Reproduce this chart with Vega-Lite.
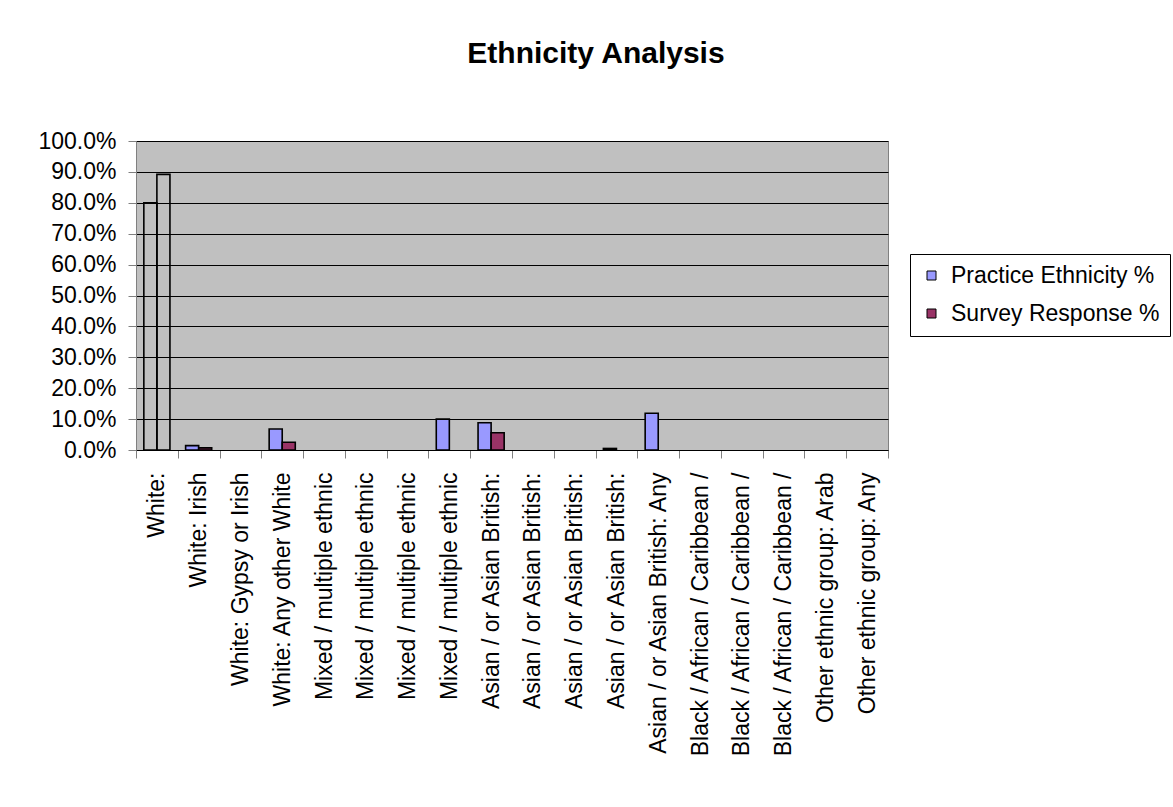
{
  "$schema": "https://vega.github.io/schema/vega-lite/v6.json",
  "autosize": "none",
  "width": 752,
  "height": 309,
  "padding": {"left": 136, "top": 141, "right": 285, "bottom": 357},
  "background": "#FFFFFF",
  "title": {
    "text": "Ethnicity Analysis",
    "font": "Liberation Sans",
    "fontSize": 30,
    "fontWeight": "bold",
    "color": "#000000",
    "anchor": "middle",
    "frame": "group",
    "dx": 84,
    "offset": 61
  },
  "datasets": {
    "ethnicity": [
      {"key": "White:#1", "series": "Practice Ethnicity %", "value": 0.800},
      {"key": "White:#1", "series": "Survey Response %", "value": 0.892},
      {"key": "White: Irish#2", "series": "Practice Ethnicity %", "value": 0.014},
      {"key": "White: Irish#2", "series": "Survey Response %", "value": 0.007},
      {"key": "White: Gypsy or Irish#3", "series": "Practice Ethnicity %", "value": 0},
      {"key": "White: Gypsy or Irish#3", "series": "Survey Response %", "value": 0},
      {"key": "White: Any other White#4", "series": "Practice Ethnicity %", "value": 0.068},
      {"key": "White: Any other White#4", "series": "Survey Response %", "value": 0.025},
      {"key": "Mixed / multiple ethnic#5", "series": "Practice Ethnicity %", "value": 0},
      {"key": "Mixed / multiple ethnic#5", "series": "Survey Response %", "value": 0},
      {"key": "Mixed / multiple ethnic#6", "series": "Practice Ethnicity %", "value": 0},
      {"key": "Mixed / multiple ethnic#6", "series": "Survey Response %", "value": 0},
      {"key": "Mixed / multiple ethnic#7", "series": "Practice Ethnicity %", "value": 0},
      {"key": "Mixed / multiple ethnic#7", "series": "Survey Response %", "value": 0},
      {"key": "Mixed / multiple ethnic#8", "series": "Practice Ethnicity %", "value": 0.100},
      {"key": "Mixed / multiple ethnic#8", "series": "Survey Response %", "value": 0},
      {"key": "Asian / or Asian British:#9", "series": "Practice Ethnicity %", "value": 0.088},
      {"key": "Asian / or Asian British:#9", "series": "Survey Response %", "value": 0.056},
      {"key": "Asian / or Asian British:#10", "series": "Practice Ethnicity %", "value": 0},
      {"key": "Asian / or Asian British:#10", "series": "Survey Response %", "value": 0},
      {"key": "Asian / or Asian British:#11", "series": "Practice Ethnicity %", "value": 0},
      {"key": "Asian / or Asian British:#11", "series": "Survey Response %", "value": 0},
      {"key": "Asian / or Asian British:#12", "series": "Practice Ethnicity %", "value": 0.005},
      {"key": "Asian / or Asian British:#12", "series": "Survey Response %", "value": 0},
      {"key": "Asian / or Asian British: Any#13", "series": "Practice Ethnicity %", "value": 0.119},
      {"key": "Asian / or Asian British: Any#13", "series": "Survey Response %", "value": 0},
      {"key": "Black / African / Caribbean /#14", "series": "Practice Ethnicity %", "value": 0},
      {"key": "Black / African / Caribbean /#14", "series": "Survey Response %", "value": 0},
      {"key": "Black / African / Caribbean /#15", "series": "Practice Ethnicity %", "value": 0},
      {"key": "Black / African / Caribbean /#15", "series": "Survey Response %", "value": 0},
      {"key": "Black / African / Caribbean /#16", "series": "Practice Ethnicity %", "value": 0},
      {"key": "Black / African / Caribbean /#16", "series": "Survey Response %", "value": 0},
      {"key": "Other ethnic group: Arab#17", "series": "Practice Ethnicity %", "value": 0},
      {"key": "Other ethnic group: Arab#17", "series": "Survey Response %", "value": 0},
      {"key": "Other ethnic group: Any#18", "series": "Practice Ethnicity %", "value": 0},
      {"key": "Other ethnic group: Any#18", "series": "Survey Response %", "value": 0}
    ]
  },
  "data": {"name": "ethnicity"},
  "mark": {"type": "bar", "stroke": "#000000", "strokeWidth": 1.6},
  "encoding": {
    "x": {
      "field": "key",
      "type": "nominal",
      "sort": null,
      "scale": {"paddingInner": 0, "paddingOuter": 0},
      "axis": {
        "title": null,
        "labelAngle": -90,
        "labelExpr": "split(datum.label, '#')[0]",
        "labelFont": "Liberation Sans",
        "labelFontSize": 23,
        "labelColor": "#000000",
        "labelPadding": 14,
        "labelLimit": 400,
        "tickBand": "extent",
        "tickSize": 8,
        "tickColor": "#808080",
        "domainColor": "#000000",
        "domainWidth": 1,
        "grid": false
      }
    },
    "xOffset": {
      "field": "series",
      "type": "nominal",
      "scale": {"paddingInner": 0, "paddingOuter": 0.6}
    },
    "y": {
      "field": "value",
      "type": "quantitative",
      "scale": {"domain": [0, 1], "nice": false},
      "axis": {
        "title": null,
        "format": ".1%",
        "values": [0, 0.1, 0.2, 0.3, 0.4, 0.5, 0.6, 0.7, 0.8, 0.9, 1],
        "labelFont": "Liberation Sans",
        "labelFontSize": 23,
        "labelColor": "#000000",
        "labelPadding": 12,
        "tickSize": 8,
        "tickColor": "#808080",
        "domainColor": "#808080",
        "grid": true,
        "gridColor": "#000000",
        "gridOpacity": 1,
        "gridWidth": 1
      }
    },
    "color": {
      "condition": {"test": "indexof(datum.key, 'White:#') === 0", "value": "transparent"},
      "field": "series",
      "type": "nominal",
      "scale": {
        "domain": ["Practice Ethnicity %", "Survey Response %"],
        "range": ["#9999FF", "#993366"]
      },
      "legend": {
        "title": null,
        "orient": "none",
        "legendX": 774,
        "legendY": 113,
        "padding": 10,
        "strokeColor": "#000000",
        "fillColor": "#FFFFFF",
        "labelFont": "Liberation Sans",
        "labelFontSize": 23,
        "labelColor": "#000000",
        "labelOffset": 8,
        "labelLimit": 400,
        "rowPadding": 14,
        "symbolType": "square",
        "symbolSize": 81,
        "symbolStrokeColor": "#000000",
        "symbolStrokeWidth": 1,
        "symbolOpacity": 1
      }
    },
    "strokeOpacity": {
      "condition": {"test": "datum.value > 0", "value": 1},
      "value": 0
    }
  },
  "config": {
    "view": {"fill": "#C0C0C0", "stroke": "#808080", "strokeWidth": 1}
  }
}
